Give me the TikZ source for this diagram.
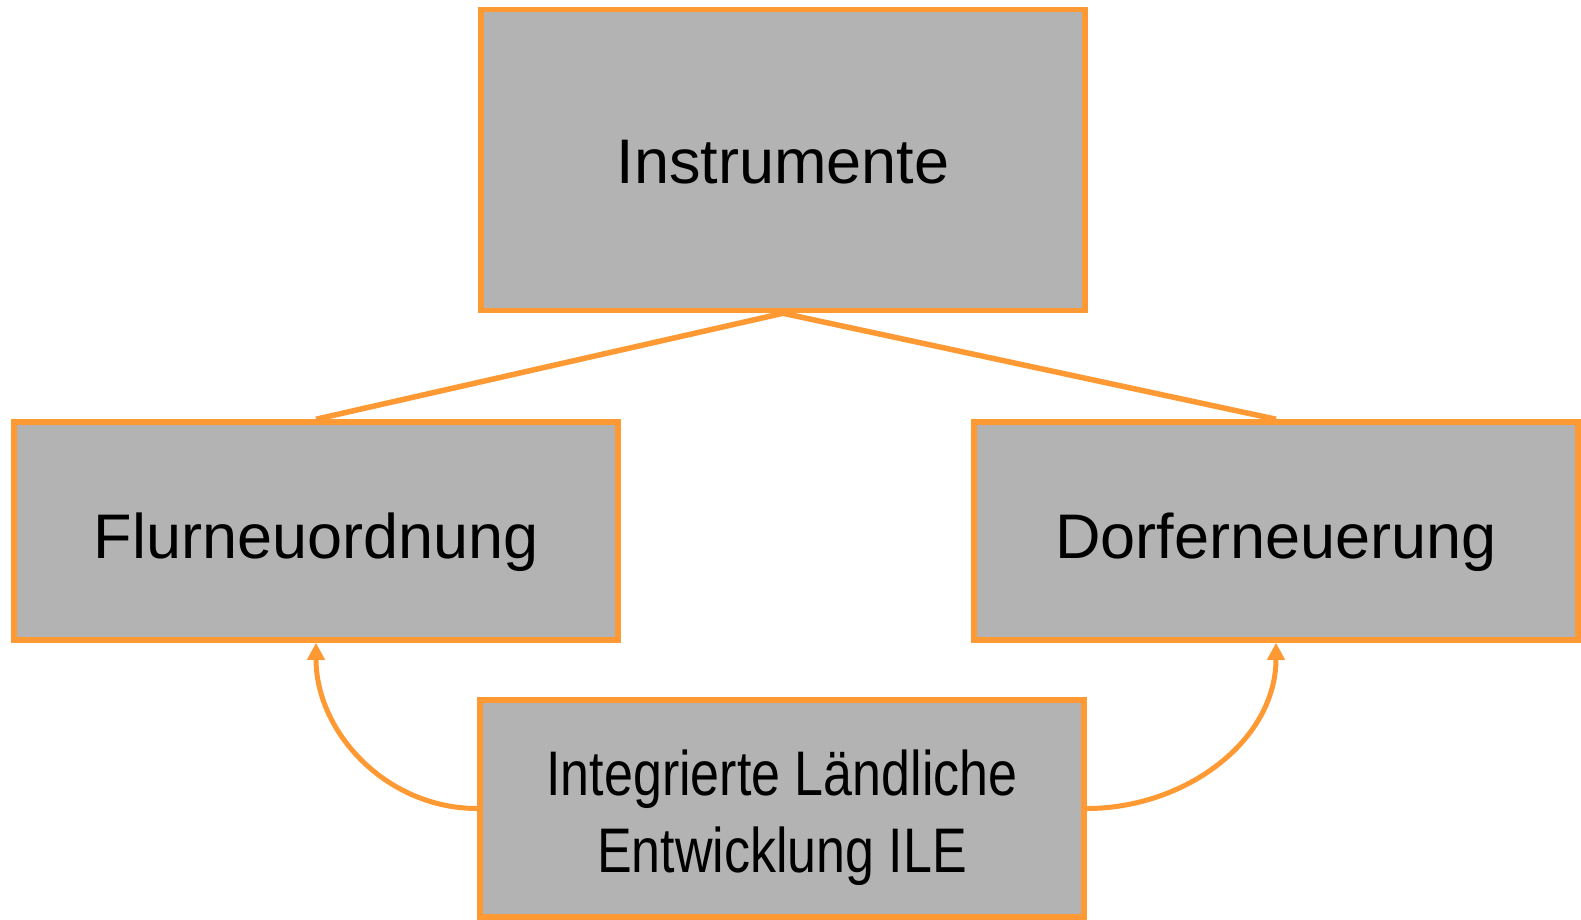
\documentclass[tikz,border=0pt]{standalone}
\usepackage{fontspec}
\setmainfont{Liberation Sans}
\newfontfamily\narrowfont{Liberation Sans}[FakeStretch=0.825]
\usetikzlibrary{arrows.meta}
\definecolor{boxorange}{RGB}{255,153,51}
\definecolor{boxgrey}{RGB}{179,179,179}
\tikzset{
  boxnode/.style={draw=boxorange, fill=boxgrey, line width=5.5pt, inner sep=0pt,
    minimum width=604pt, align=center, font=\fontsize{63}{77}\selectfont},
  singletext/.style={text height=54pt, text depth=0pt},
  linkline/.style={draw=boxorange, line width=5.5pt},
  curvearrow/.style={draw=boxorange, line width=5pt, -{Triangle[length=17pt,width=17pt]}}
}
\begin{document}
\begin{tikzpicture}[x=1pt,y=-1pt]
\useasboundingbox (0,0) rectangle (1581,919);
\node[boxnode, text height=47pt, text depth=0pt, minimum height=301pt] (top) at (783,160) {Instrumente};
\node[boxnode, singletext, minimum height=218pt] (left) at (316,531) {Flurneuordnung};
\node[boxnode, singletext, minimum height=218pt] (right) at (1276,531) {Dorferneuerung};
\node[boxnode, minimum height=217pt, font=\narrowfont\fontsize{63}{77}\selectfont] (bot) at (782,808.5) {\rule{0pt}{64pt}Integrierte Ländliche\\Entwicklung ILE};
\draw[linkline] (top.south) -- (left.north);
\draw[linkline] (top.south) -- (right.north);
\draw[curvearrow] (bot.west) to[out=180,in=-90] (left.south);
\draw[curvearrow] (bot.east) to[out=0,in=-90] (right.south);
\end{tikzpicture}
\end{document}
